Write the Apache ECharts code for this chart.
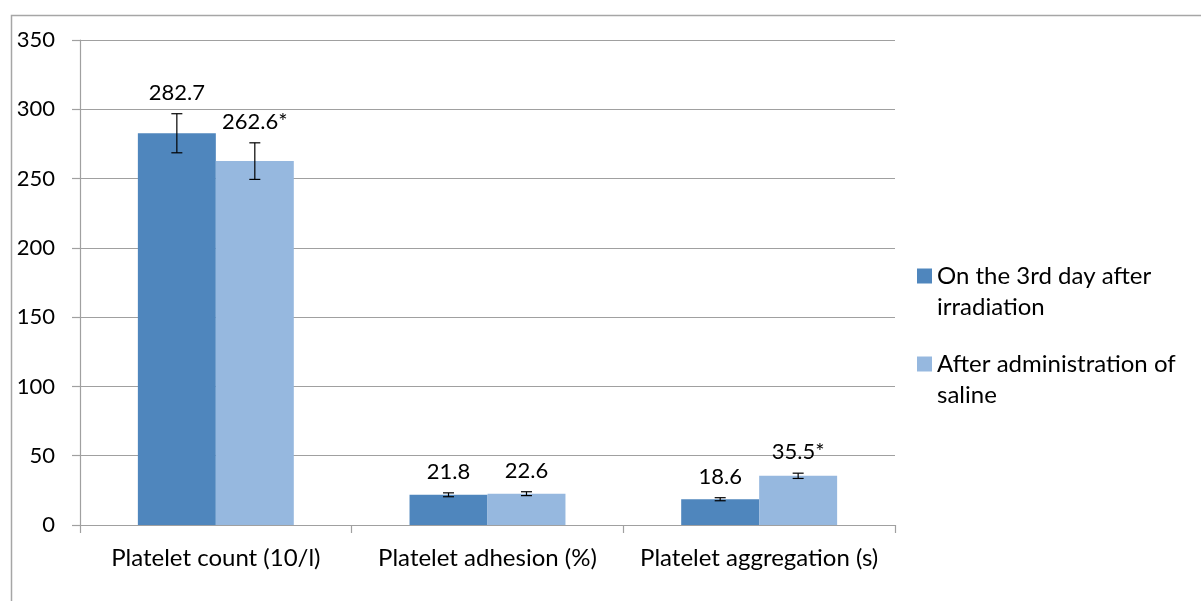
<!DOCTYPE html>
<html>
<head>
<meta charset="utf-8">
<script src="https://cdn.jsdelivr.net/npm/echarts@6/dist/echarts.min.js"></script>
<style>
html,body{margin:0;padding:0;background:#fff;}
#chart{width:1201px;height:601px;}
</style>
</head>
<body>
<div id="chart"></div>
<script>
var categories = ['Platelet count (10/l)', 'Platelet adhesion (%)', 'Platelet aggregation (s)'];
var seriesNames = ['On the 3rd day after irradiation', 'After administration of saline'];
var legendLines = [['On the 3rd day after', 'irradiation'], ['After administration of', 'saline']];
var values1 = [282.7, 21.8, 18.6];
var values2 = [262.6, 22.6, 35.5];
var errors1 = [14.1, 1.4, 1.1];
var errors2 = [13.2, 1.4, 1.9];
var marks1 = ['', '', ''];
var marks2 = ['*', '', '*'];
var yTicks = [0, 50, 100, 150, 200, 250, 300, 350];

var FONT = 'Lato';
var NUM_SIZE = 22;
var TEXT_SIZE = 24;
var GAP = 0.426;
var colors = ['#4f86bd', '#96b8df'];

function errorSeries(idx, values, errors, marks) {
  var data = values.map(function (v, i) { return [i, v, errors[i], marks[i]]; });
  return {
    type: 'custom',
    name: seriesNames[idx] + ' error',
    silent: true,
    z: 10,
    data: data,
    encode: { x: 0, y: 1 },
    renderItem: function (params, api) {
      var c = api.value(0), v = api.value(1), e = api.value(2);
      var m = data[params.dataIndex][3];
      var band = api.size([1, 0])[0];
      var bw = band * (1 - GAP) / 2;
      var center = api.coord([c, v]);
      var x = center[0] + (idx === 0 ? -bw / 2 : bw / 2);
      var top = api.coord([c, v + e])[1];
      var bot = api.coord([c, v - e])[1];
      var cap = 5.5;
      var ls = { stroke: '#000', lineWidth: 1.2 };
      return {
        type: 'group',
        children: [
          { type: 'line', shape: { x1: x, y1: top, x2: x, y2: bot }, style: ls },
          { type: 'line', shape: { x1: x - cap, y1: top, x2: x + cap, y2: top }, style: ls },
          { type: 'line', shape: { x1: x - cap, y1: bot, x2: x + cap, y2: bot }, style: ls },
          { type: 'text', style: { x: x, y: top - 21, text: v.toFixed(1) + m, fill: '#000',
              font: NUM_SIZE + 'px ' + FONT, align: 'center', verticalAlign: 'middle' } }
        ]
      };
    }
  };
}

var chart = echarts.init(document.getElementById('chart'), null, { renderer: 'canvas' });
chart.setOption({
  animation: false,
  backgroundColor: '#fff',
  textStyle: { fontFamily: FONT },
  graphic: [{
    type: 'rect', silent: true,
    shape: { x: 11.5, y: 15.5, width: 1400, height: 800 },
    style: { fill: 'none', stroke: '#a6a6a6', lineWidth: 1.5 }
  }],
  grid: { left: 80, top: 40, right: 306, bottom: 76, containLabel: false },
  legend: [0, 1].map(function (i) {
    return {
      data: [seriesNames[i]],
      left: 917,
      top: [276, 364][i] - 46.5,
      padding: 0,
      orient: 'vertical',
      itemWidth: 15, itemHeight: 15,
      icon: 'rect',
      selectedMode: false,
      formatter: function () { return ' \n' + legendLines[i].join('\n'); },
      textStyle: { fontFamily: FONT, fontSize: TEXT_SIZE, color: '#000', lineHeight: 31 }
    };
  }),
  xAxis: {
    type: 'category',
    data: categories,
    axisLine: { lineStyle: { color: '#a0a0a0', width: 1.2 } },
    axisTick: { show: true, length: 8, lineStyle: { color: '#a0a0a0', width: 1.2 } },
    axisLabel: { color: '#000', fontSize: TEXT_SIZE, fontFamily: FONT, margin: 21, interval: 0, hideOverlap: false }
  },
  yAxis: {
    type: 'value',
    min: yTicks[0], max: yTicks[yTicks.length - 1], interval: 50,
    axisLine: { show: true, lineStyle: { color: '#a0a0a0', width: 1.2 } },
    axisTick: { show: true, length: 8, lineStyle: { color: '#a0a0a0', width: 1.2 } },
    splitLine: { lineStyle: { color: '#a0a0a0', width: 1.2 } },
    axisLabel: { color: '#000', fontSize: NUM_SIZE, fontFamily: FONT, margin: 25 }
  },
  series: [
    { type: 'bar', name: seriesNames[0], data: values1, barGap: '0%', barCategoryGap: (GAP * 100) + '%',
      itemStyle: { color: colors[0] } },
    { type: 'bar', name: seriesNames[1], data: values2, barGap: '0%', barCategoryGap: (GAP * 100) + '%',
      itemStyle: { color: colors[1] } },
    errorSeries(0, values1, errors1, marks1),
    errorSeries(1, values2, errors2, marks2)
  ]
});
</script>
</body>
</html>
